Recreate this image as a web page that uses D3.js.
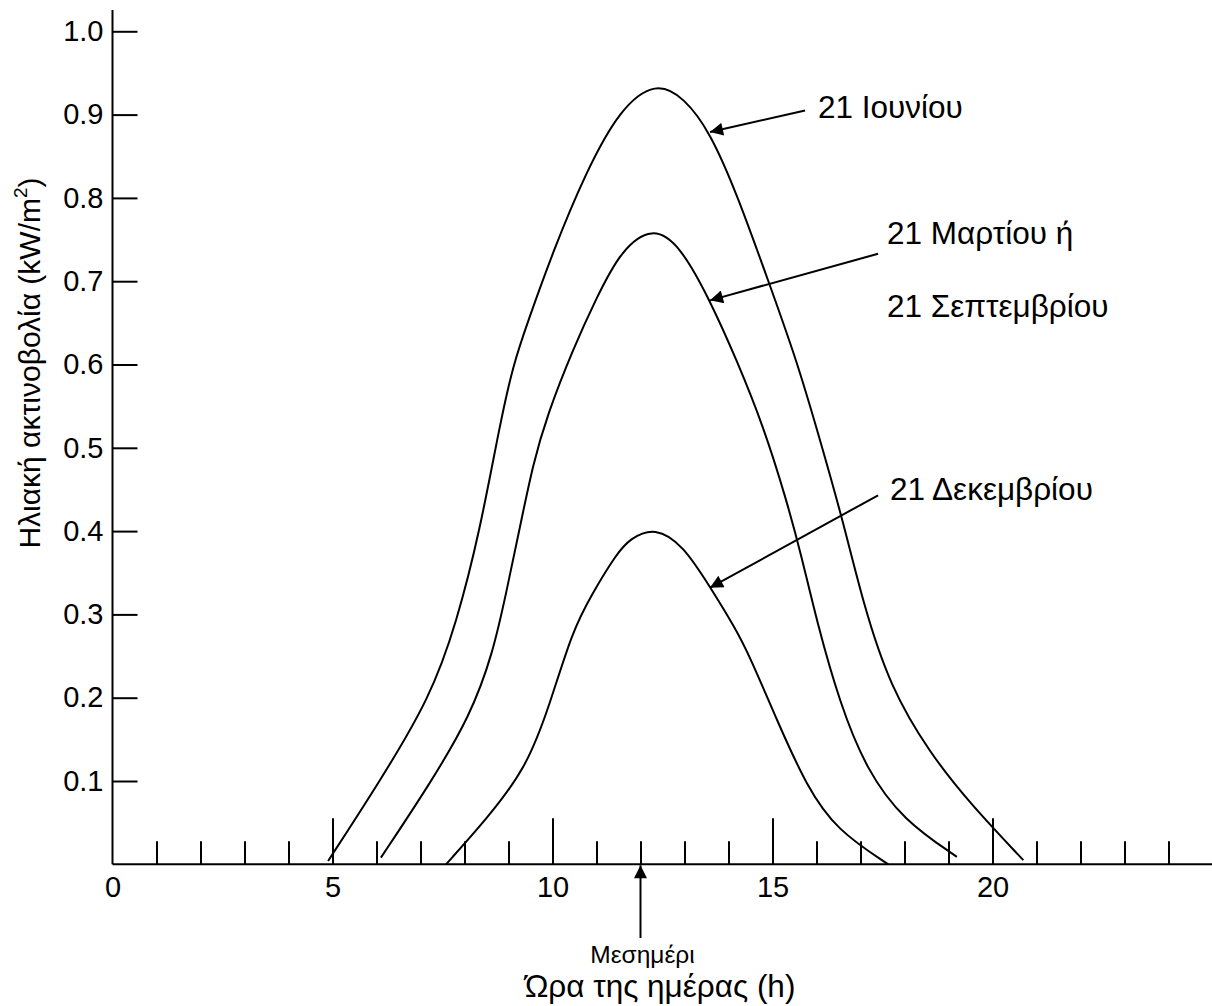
<!DOCTYPE html>
<html>
<head>
<meta charset="utf-8">
<script src="https://cdn.jsdelivr.net/npm/d3@7"></script>
<style>
  body { margin: 0; background: #fff; }
  svg { display: block; }
</style>
</head>
<body>
<div id="chart"></div>
<script>
// hours and irradiance (kW/m2)
var juneHours = [4.9, 6.08, 7.22, 7.82, 8.35, 8.81, 9.11, 9.41, 10.02, 10.75, 11.53, 12.35, 13.0, 13.58, 14.19, 14.9, 15.55, 16.05, 16.6, 17.06, 17.67, 18.58, 19.49, 20.7];
var juneValues = [0.004, 0.10, 0.20, 0.29, 0.40, 0.53, 0.60, 0.647, 0.737, 0.83, 0.907, 0.94, 0.92, 0.879, 0.805, 0.701, 0.605, 0.515, 0.413, 0.313, 0.213, 0.133, 0.073, 0.005];

var marchHours = [6.1, 7.22, 8.13, 8.65, 8.96, 9.26, 9.56, 9.87, 10.47, 11.0, 11.55, 12.27, 12.9, 13.58, 14.19, 14.8, 15.32, 15.66, 16.0, 16.53, 17.14, 17.97, 19.19];
var marchValues = [0.008, 0.097, 0.178, 0.254, 0.329, 0.405, 0.481, 0.538, 0.619, 0.68, 0.737, 0.766, 0.743, 0.677, 0.605, 0.525, 0.437, 0.37, 0.293, 0.193, 0.113, 0.053, 0.009];

var decHours = [7.58, 8.5, 9.41, 9.94, 10.45, 10.9, 11.46, 11.76, 12.33, 12.97, 13.58, 14.15, 14.49, 15.1, 15.78, 16.46, 17.63];
var decValues = [0.0, 0.054, 0.116, 0.192, 0.28, 0.325, 0.373, 0.391, 0.405, 0.383, 0.333, 0.284, 0.249, 0.173, 0.093, 0.041, 0.0];

var seriesNames = ["21 Ιουνίου", "21 Μαρτίου ή|21 Σεπτεμβρίου", "21 Δεκεμβρίου"];

var xMajorTicks = [0, 5, 10, 15, 20];
var xMinorTicks = d3.range(1, 25);
var yTicks = [0.1, 0.2, 0.3, 0.4, 0.5, 0.6, 0.7, 0.8, 0.9, 1.0];

var noonHour = 12;

// label arrows: [tail hour, tail value, tip hour, tip value]
var arrowTails = [[15.74, 0.905], [17.40, 0.733], [17.40, 0.443]];
var arrowTips = [[13.58, 0.879], [13.58, 0.677], [13.58, 0.332]];

var width = 1212, height = 1006;
var font = "'Liberation Sans', Arial, Helvetica, sans-serif";

var svg = d3.select("#chart").append("svg")
  .attr("width", width)
  .attr("height", height)
  .attr("viewBox", "0 0 " + width + " " + height);

svg.append("rect").attr("width", width).attr("height", height).attr("fill", "#fff");

var x = d3.scaleLinear().domain([0, 24]).range([112.5, 1168.5]);
var y = d3.scaleLinear().domain([0, 1]).range([864.3, 31.3]);

svg.append("defs").append("marker")
  .attr("id", "head")
  .attr("viewBox", "0 0 10 10")
  .attr("refX", 10)
  .attr("refY", 5)
  .attr("markerWidth", 17)
  .attr("markerHeight", 13)
  .attr("markerUnits", "userSpaceOnUse")
  .attr("orient", "auto")
  .append("path")
  .attr("d", "M0,0L10,5L0,10Z")
  .attr("fill", "#000");

// minor hour ticks
svg.append("g")
  .attr("transform", "translate(0," + y(0) + ")")
  .call(d3.axisBottom(x).tickValues(xMinorTicks).tickSize(-23).tickFormat(""))
  .call(function(g) { g.select(".domain").remove(); })
  .selectAll("line").attr("stroke", "#000").attr("stroke-width", 2);

// major ticks with labels
var xAxisG = svg.append("g")
  .attr("transform", "translate(0," + y(0) + ")")
  .call(d3.axisBottom(x).tickValues(xMajorTicks).tickSize(-46).tickPadding(12).tickFormat(d3.format("d")))
  .call(function(g) { g.select(".domain").remove(); });
xAxisG.selectAll("line").attr("stroke", "#000").attr("stroke-width", 2)
  .filter(function(d) { return d === 0; }).remove();
xAxisG.selectAll("text")
  .attr("font-family", font)
  .attr("font-size", 29)
  .attr("fill", "#000");

var yAxisG = svg.append("g")
  .attr("transform", "translate(" + x(0) + ",0)")
  .call(d3.axisLeft(y).tickValues(yTicks).tickSize(-25).tickPadding(9).tickFormat(d3.format(".1f")))
  .call(function(g) { g.select(".domain").remove(); });
yAxisG.selectAll("line").attr("stroke", "#000").attr("stroke-width", 2);
yAxisG.selectAll("text")
  .attr("font-family", font)
  .attr("font-size", 29)
  .attr("fill", "#000");

// axis lines
svg.append("line")
  .attr("x1", x(0)).attr("x2", width)
  .attr("y1", y(0)).attr("y2", y(0))
  .attr("stroke", "#000").attr("stroke-width", 2);
svg.append("line")
  .attr("x1", x(0)).attr("x2", x(0))
  .attr("y1", y(0)).attr("y2", 10)
  .attr("stroke", "#000").attr("stroke-width", 2);

// curves
var series = [
  d3.zip(juneHours, juneValues),
  d3.zip(marchHours, marchValues),
  d3.zip(decHours, decValues)
];

var line = d3.line()
  .x(function(d) { return x(d[0]); })
  .y(function(d) { return y(d[1]); })
  .curve(d3.curveBasis);

svg.selectAll(".curve")
  .data(series)
  .enter().append("path")
  .attr("class", "curve")
  .attr("d", line)
  .attr("fill", "none")
  .attr("stroke", "#000")
  .attr("stroke-width", 2);

// label arrows
svg.selectAll(".pointer")
  .data(arrowTails)
  .enter().append("line")
  .attr("class", "pointer")
  .attr("x1", function(d) { return x(d[0]); })
  .attr("y1", function(d) { return y(d[1]); })
  .attr("x2", function(d, i) { return x(arrowTips[i][0]); })
  .attr("y2", function(d, i) { return y(arrowTips[i][1]); })
  .attr("stroke", "#000")
  .attr("stroke-width", 2)
  .attr("marker-end", "url(#head)");

// series labels
var labelAt = [[818, 118], [887, 244], [890, 500]];
seriesNames.forEach(function(name, i) {
  var t = svg.append("text")
    .attr("x", labelAt[i][0])
    .attr("y", labelAt[i][1])
    .attr("font-family", font)
    .attr("font-size", 31.5)
    .attr("fill", "#000");
  name.split("|").forEach(function(part, j) {
    t.append("tspan")
      .attr("x", labelAt[i][0])
      .attr("dy", j === 0 ? 0 : 73)
      .text(part);
  });
});

// noon marker
svg.append("line")
  .attr("x1", x(noonHour)).attr("x2", x(noonHour))
  .attr("y1", 938).attr("y2", y(0) + 1)
  .attr("stroke", "#000").attr("stroke-width", 2)
  .attr("marker-end", "url(#head)");

svg.append("text")
  .attr("x", x(noonHour) + 2)
  .attr("y", 963)
  .attr("text-anchor", "middle")
  .attr("font-family", font)
  .attr("font-size", 24.5)
  .text("Μεσημέρι");

svg.append("text")
  .attr("x", 660)
  .attr("y", 997)
  .attr("text-anchor", "middle")
  .attr("font-family", font)
  .attr("font-size", 31.5)
  .text("Ώρα της ημέρας (h)");

var yLabel = svg.append("text")
  .attr("transform", "translate(40,363) rotate(-90)")
  .attr("text-anchor", "middle")
  .attr("font-family", font)
  .attr("font-size", 30);
yLabel.append("tspan").text("Ηλιακή ακτινοβολία (kW/m");
yLabel.append("tspan").attr("font-size", 19).attr("dy", -13).text("2");
yLabel.append("tspan").attr("dy", 13).text(")");
</script>
</body>
</html>
